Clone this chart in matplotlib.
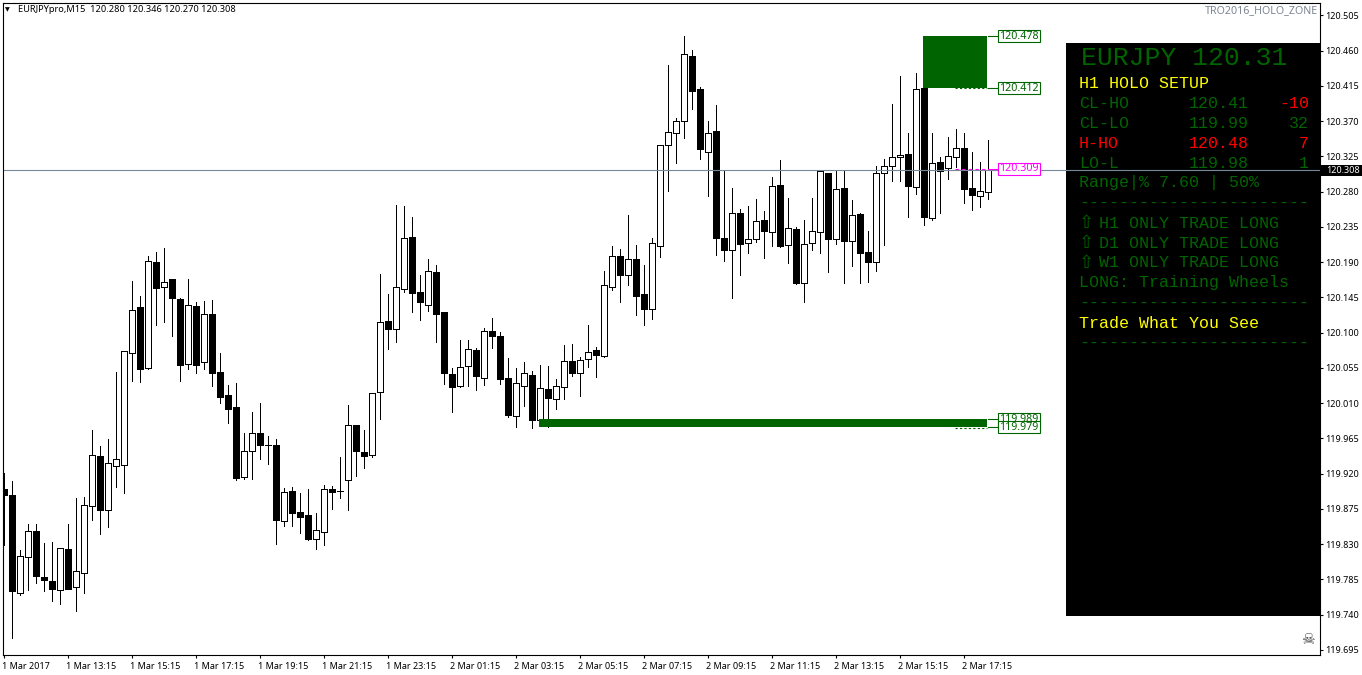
import matplotlib
matplotlib.use("Agg")
import matplotlib.pyplot as plt
from matplotlib.patches import Rectangle

opens = [119.900, 119.893, 119.767, 119.813, 119.847, 119.788, 119.783, 119.771, 119.824, 119.775,
         119.793, 119.878, 119.942, 119.873, 119.930, 119.931, 120.074, 120.133, 120.055, 120.190,
         120.158, 120.168, 120.143, 120.060, 120.134, 120.062, 120.124, 120.050, 120.020, 120.005,
         119.916, 119.949, 119.972, 119.956, 119.956, 119.859, 119.898, 119.871, 119.867, 119.836,
         119.845, 119.900, 119.898, 119.912, 119.982, 119.947, 119.944, 120.024, 120.115, 120.104,
         120.156, 120.222, 120.152, 120.135, 120.177, 120.126, 120.047, 120.032, 120.057, 120.078,
         120.042, 120.102, 120.096, 120.042, 119.993, 120.032, 120.046, 119.988, 120.028, 120.015,
         120.030, 120.064, 120.048, 120.066, 120.078, 120.070, 120.158, 120.198, 120.173, 120.194,
         120.149, 120.130, 120.210, 120.339, 120.355, 120.370, 120.453, 120.411, 120.330, 120.357,
         120.221, 120.205, 120.253, 120.214, 120.219, 120.244, 120.228, 120.288, 120.212, 120.232,
         120.163, 120.214, 120.228, 120.304, 120.219, 120.284, 120.217, 120.251, 120.203, 120.190,
         120.304, 120.313, 120.324, 120.328, 120.286, 120.412, 120.246, 120.318, 120.310, 120.324,
         120.336, 120.284, 120.274, 120.280]
highs = [119.921, 119.910, 119.822, 119.856, 119.856, 119.831, 119.833, 119.825, 119.856, 119.889,
         119.890, 119.976, 119.955, 119.964, 120.050, 120.077, 120.166, 120.147, 120.198, 120.203,
         120.208, 120.168, 120.144, 120.168, 120.139, 120.140, 120.142, 120.074, 120.033, 120.036,
         119.972, 119.999, 120.010, 119.968, 119.964, 119.902, 119.903, 119.895, 119.900, 119.870,
         119.905, 119.904, 119.941, 120.008, 119.982, 119.976, 120.023, 120.175, 120.149, 120.263,
         120.262, 120.247, 120.173, 120.194, 120.186, 120.126, 120.055, 120.090, 120.090, 120.080,
         120.106, 120.119, 120.101, 120.067, 120.055, 120.062, 120.051, 120.059, 120.057, 120.041,
         120.084, 120.085, 120.069, 120.110, 120.082, 120.179, 120.210, 120.207, 120.250, 120.212,
         120.186, 120.221, 120.339, 120.442, 120.374, 120.479, 120.461, 120.413, 120.370, 120.390,
         120.307, 120.284, 120.258, 120.262, 120.270, 120.255, 120.299, 120.320, 120.272, 120.235,
         120.244, 120.272, 120.306, 120.304, 120.307, 120.307, 120.269, 120.253, 120.230, 120.313,
         120.322, 120.392, 120.427, 120.355, 120.431, 120.412, 120.355, 120.324, 120.350, 120.360,
         120.355, 120.330, 120.318, 120.346]
lows = [119.829, 119.710, 119.765, 119.771, 119.780, 119.770, 119.757, 119.753, 119.773, 119.744,
        119.767, 119.861, 119.843, 119.852, 119.903, 119.895, 120.038, 120.037, 120.053, 120.110,
        120.113, 120.096, 120.038, 120.053, 120.048, 120.053, 120.032, 120.010, 119.985, 119.912,
        119.913, 119.913, 119.939, 119.932, 119.830, 119.853, 119.853, 119.844, 119.835, 119.824,
        119.829, 119.875, 119.889, 119.873, 119.917, 119.927, 119.941, 119.990, 120.079, 120.088,
        120.152, 120.126, 120.116, 120.127, 120.088, 120.034, 119.999, 120.030, 120.032, 120.027,
        120.033, 120.080, 120.034, 119.992, 119.979, 120.006, 119.978, 119.988, 119.979, 120.002,
        120.015, 120.045, 120.019, 120.056, 120.043, 120.069, 120.154, 120.139, 120.161, 120.122,
        120.110, 120.117, 120.196, 120.281, 120.316, 120.348, 120.385, 120.322, 120.274, 120.199,
        120.191, 120.144, 120.173, 120.202, 120.216, 120.195, 120.210, 120.209, 120.189, 120.162,
        120.139, 120.205, 120.202, 120.177, 120.213, 120.163, 120.185, 120.163, 120.164, 120.179,
        120.212, 120.293, 120.293, 120.247, 120.277, 120.237, 120.244, 120.253, 120.296, 120.311,
        120.265, 120.256, 120.260, 120.270]
closes = [119.893, 119.770, 119.815, 119.847, 119.789, 119.784, 119.773, 119.825, 119.773, 119.796,
          119.880, 119.944, 119.873, 119.933, 119.939, 120.077, 120.129, 120.053, 120.191, 120.157,
          120.164, 120.144, 120.059, 120.135, 120.059, 120.124, 120.048, 120.018, 120.002, 119.914,
          119.949, 119.972, 119.956, 119.956, 119.861, 119.896, 119.870, 119.865, 119.836, 119.848,
          119.900, 119.896, 119.898, 119.982, 119.949, 119.942, 120.023, 120.113, 120.104, 120.158,
          120.221, 120.150, 120.139, 120.179, 120.124, 120.048, 120.030, 120.056, 120.079, 120.045,
          120.102, 120.096, 120.041, 119.995, 120.036, 120.048, 119.988, 120.029, 120.016, 120.032,
          120.064, 120.048, 120.065, 120.075, 120.071, 120.161, 120.198, 120.173, 120.194, 120.147,
          120.130, 120.214, 120.339, 120.356, 120.370, 120.456, 120.408, 120.334, 120.355, 120.221,
          120.205, 120.253, 120.213, 120.219, 120.242, 120.230, 120.287, 120.210, 120.233, 120.163,
          120.213, 120.230, 120.306, 120.219, 120.283, 120.217, 120.250, 120.202, 120.190, 120.304,
          120.313, 120.324, 120.327, 120.287, 120.411, 120.247, 120.316, 120.306, 120.325, 120.336,
          120.283, 120.276, 120.281, 120.308]

price_ticks = [120.505, 120.460, 120.415, 120.370, 120.325, 120.280, 120.235, 120.190, 120.145, 120.100,
               120.055, 120.010, 119.965, 119.920, 119.875, 119.830, 119.785, 119.740, 119.695]
time_labels = ["1 Mar 2017", "1 Mar 13:15", "1 Mar 15:15", "1 Mar 17:15", "1 Mar 19:15", "1 Mar 21:15",
               "1 Mar 23:15", "2 Mar 01:15", "2 Mar 03:15", "2 Mar 05:15", "2 Mar 07:15", "2 Mar 09:15",
               "2 Mar 11:15", "2 Mar 13:15", "2 Mar 15:15", "2 Mar 17:15"]

last_price = 120.308
upper_zone = (120.412, 120.478)
lower_zone = (119.979, 119.989)

GREEN = "#006400"
FONT = "Noto Sans"
MONO = "Liberation Mono"
W, H = 1362, 675

fig = plt.figure(figsize=(W / 100, H / 100), dpi=100, facecolor="white")
ax = fig.add_axes([2.5 / W, 1 - 654.5 / H, 1317 / W, 652 / H])
ax.set_xlim(-0.125, 164.5)
ax.set_ylim(119.6890, 120.5213)


def px_x(px):
    # pixel column to bar index
    return (px - 3.5) / 8


def fig_text(px, py, s, **kw):
    kw.setdefault("va", "center")
    kw.setdefault("family", MONO)
    return fig.text(px / W, 1 - py / H, s, zorder=20, **kw)


xs = list(range(len(opens)))
ax.vlines(xs, lows, highs, color="black", lw=0.5, zorder=2, antialiased=False)
for x, o, c in zip(xs, opens, closes):
    fc = "white" if c >= o else "black"
    ax.add_patch(Rectangle((x - 3 / 8, min(o, c)), 6 / 8, abs(c - o), facecolor=fc, edgecolor="black",
                           lw=0.5, zorder=3, antialiased=False))

# holo zones
zone_l, zone_u = px_x(539), px_x(923)
zone_r = px_x(987)
ax.add_patch(Rectangle((zone_u, upper_zone[0]), zone_r - zone_u, upper_zone[1] - upper_zone[0],
                       color=GREEN, lw=0, zorder=4))
ax.add_patch(Rectangle((zone_l, lower_zone[0]), zone_r - zone_l, lower_zone[1] - lower_zone[0],
                       color=GREEN, lw=0, zorder=4))

# info panel sits under the price line
panel = Rectangle((1066 / W, 1 - 616 / H), (1319.5 - 1066) / W, 573 / H, transform=fig.transFigure,
                  facecolor="black", edgecolor="none", zorder=5)
ax.add_patch(panel)
ax.axhline(last_price, color="#778899", lw=0.8, zorder=6)


def tag(price, color, start=988):
    ax.plot([px_x(start), px_x(998)], [price, price], color=color, lw=0.8, zorder=7)
    ax.add_patch(Rectangle((px_x(998), price - 0.0077), 42 / 8, 0.0154, facecolor="white", edgecolor=color,
                           lw=0.8, zorder=8))
    ax.text(px_x(1019), price, f"{price:.3f}", color=color, fontsize=7.7, family=FONT, ha="center",
            va="center", zorder=9)


ax.plot([px_x(955), px_x(987)], [upper_zone[0]] * 2, color=GREEN, lw=0.8, ls=(0, (2, 2)), zorder=5)
ax.plot([px_x(955), px_x(987)], [lower_zone[0] - 0.0005] * 2, color=GREEN, lw=0.8, ls=(0, (2, 2)), zorder=5)
ax.plot([px_x(955), px_x(988)], [120.309, 120.309], color="#FF00FF", lw=0.8, ls=(0, (3, 3)), zorder=7)
tag(upper_zone[1], GREEN)
tag(upper_zone[0], GREEN)
tag(lower_zone[1], GREEN)
tag(lower_zone[0], GREEN)
tag(120.309, "#FF00FF")

# axes
for side in ax.spines.values():
    side.set_linewidth(0.8)
    side.set_zorder(15)
ax.yaxis.tick_right()
ax.set_yticks(price_ticks)
ax.set_yticklabels([f"{p:.3f}" for p in price_ticks])
ax.tick_params(axis="y", length=2.5, width=0.8, pad=1.5, labelsize=6.5, labelfontfamily=FONT)
ax.set_xticks(range(0, 8 * len(time_labels), 8))
ax.set_xticklabels(time_labels, ha="left")
for lab in ax.get_xticklabels():
    lab.set_x(lab.get_position()[0])
ax.tick_params(axis="x", length=2.5, width=0.8, pad=3, labelsize=6.5, labelfontfamily=FONT)
# tick labels start just left of their tick
offset = matplotlib.transforms.ScaledTranslation(-2 / 100, 0, fig.dpi_scale_trans)
for lab in ax.get_xticklabels():
    lab.set_transform(lab.get_transform() + offset)

# current price flag on the axis
fig.patches.append(Rectangle((1321 / W, 1 - 176.5 / H), 41 / W, 11 / H, transform=fig.transFigure,
                             facecolor="black", edgecolor="none", zorder=18))
fig_text(1326, 170.5, "120.308", color="white", fontsize=6.5, family=FONT, fontweight="bold")

# header texts
fig_text(5, 10, "\u25bc", color="black", fontsize=4.5, family="DejaVu Sans")
fig_text(18, 10, "EURJPYpro,M15  120.280 120.346 120.270 120.308", color="black", fontsize=6.65, family=FONT)
fig_text(1318, 11, "TRO2016_HOLO_ZONE", color="#7b8592", fontsize=7.7, family=FONT, fontweight="bold", ha="right")

# panel texts
fig_text(1081, 58, "EURJPY 120.31", color=GREEN, fontsize=19)
rows = [(83, "H1 HOLO SETUP", "", "", "#FFFF00"),
        (103, "CL-HO", "120.41", "-10", GREEN),
        (123, "CL-LO", "119.99", "32", GREEN),
        (143, "H-HO", "120.48", "7", "#FF0000"),
        (163, "LO-L", "119.98", "1", GREEN),
        (183, "Range|% 7.60 | 50%", "", "", GREEN),
        (203, "-" * 23, "", "", GREEN),
        (283, "LONG: Training Wheels", "", "", GREEN),
        (303, "-" * 23, "", "", GREEN),
        (323, "Trade What You See", "", "", "#FFFF00"),
        (343, "-" * 23, "", "", GREEN)]
for y, left, mid, right, col in rows:
    fig_text(1079, y, left, color=col, fontsize=12)
    if mid:
        fig_text(1189, y, mid, color=col if left != "CL-HO" else GREEN, fontsize=12)
        fig_text(1309, y, right, color="#FF0000" if left == "CL-HO" else col, fontsize=12, ha="right")
for y, frame in [(223, "H1"), (243, "D1"), (263, "W1")]:
    fig_text(1079, y, "\u21e7", color=GREEN, fontsize=13, family="DejaVu Sans")
    fig_text(1099, y, f"{frame} ONLY TRADE LONG", color=GREEN, fontsize=12)

fig_text(1308, 640, "\u2620", color="#444444", fontsize=11, family="DejaVu Sans", ha="center")

fig.savefig("out.png", dpi=100)
